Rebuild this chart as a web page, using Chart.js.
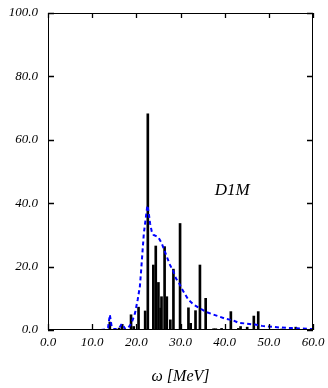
<!DOCTYPE html>
<html>
<head>
<meta charset="utf-8">
<script src="https://cdn.jsdelivr.net/npm/chart.js@4.4.1/dist/chart.umd.min.js"></script>
<style>
  html, body { margin: 0; padding: 0; background: #ffffff; }
  #wrap { width: 328px; height: 388px; }
</style>
</head>
<body>
<div id="wrap"><canvas id="c" width="328" height="388"></canvas></div>
<script>
// Discrete transition strengths (stick spectrum)
const stickEnergy = [14.0, 16.1, 16.8, 18.8, 19.4, 20.5, 22.0, 22.6, 23.85, 24.4, 25.0, 25.5, 25.7,
  26.4, 26.9, 27.7, 28.4, 29.9, 31.8, 32.3, 33.4, 34.4, 35.7, 37.5, 38.0, 39.3, 41.4,
  43.1, 43.6, 45.1, 46.6, 47.6, 52.9, 56.1];
const stickStrength = [2.5, 0.6, 1.8, 4.8, 1.1, 7.2, 6.0, 68.2, 20.5, 26.5, 15.0, 6.9, 10.5,
  26.3, 10.5, 3.2, 19.2, 33.6, 7.0, 2.1, 6.1, 20.5, 10.0, 0.4, 0.4, 0.5, 5.8,
  0.5, 1.1, 0.9, 4.4, 5.8, 0.3, 0.9];

// Folded (smoothed) response
const foldEnergy = [12.0, 13.0, 13.6, 14.0, 14.4, 14.8, 15.5, 16.2, 16.7, 17.1, 17.5, 18.2, 18.9,
  19.7, 20.3, 20.8, 21.1, 21.7, 22.2, 22.5, 22.8, 23.1, 23.5, 23.9, 24.5, 25.0, 25.7, 26.3,
  26.9, 27.6, 28.4, 29.0, 29.7, 30.5, 31.8, 33.0, 34.4, 36.0, 37.8, 40.1, 42.0, 43.1, 45.0,
  46.9, 48.5, 49.9, 52.5, 55.2, 57.5, 60.0];
const foldStrength = [0.0, 0.2, 0.8, 4.8, 1.2, 0.3, 0.3, 0.8, 1.9, 1.2, 0.3, 0.8, 2.1,
  5.3, 9.5, 13.7, 19.0, 30.5, 36.0, 39.3, 37.0, 33.7, 31.0, 30.0, 29.6, 29.2, 27.5, 25.3,
  23.1, 20.6, 18.4, 16.2, 14.7, 12.5, 9.5, 8.0, 6.8, 5.6, 4.7, 3.6, 3.0, 2.3, 2.0,
  1.7, 1.3, 1.1, 0.8, 0.6, 0.45, 0.3];

const xTickValues = [0, 10, 20, 30, 40, 50, 60];
const yTickValues = [0, 20, 40, 60, 80, 100];
const panelLabel = 'D1M';
const xAxisTitle = 'ω [MeV]';

const serif = '"Liberation Serif", "Times New Roman", serif';

// Frame around the plot area with inward-pointing tick marks, plus the panel label
const framePlugin = {
  id: 'frame',
  afterDatasetsDraw(chart) {
    const { ctx, chartArea: a, scales: { x, y } } = chart;
    ctx.save();
    ctx.strokeStyle = '#000';
    ctx.lineWidth = 1;
    ctx.strokeRect(a.left + 0.5, a.top + 0.5, a.right - a.left - 1, a.bottom - a.top - 1);
    ctx.lineWidth = 1.3;
    ctx.beginPath();
    xTickValues.forEach(v => {
      const px = Math.round(x.getPixelForValue(v)) + 0.5;
      ctx.moveTo(px, a.bottom); ctx.lineTo(px, a.bottom - 6);
      ctx.moveTo(px, a.top); ctx.lineTo(px, a.top + 5);
    });
    yTickValues.forEach(v => {
      const py = Math.round(y.getPixelForValue(v)) + 0.5;
      ctx.moveTo(a.left, py); ctx.lineTo(a.left + 6, py);
      ctx.moveTo(a.right, py); ctx.lineTo(a.right - 6, py);
    });
    ctx.stroke();
    ctx.fillStyle = '#000';
    ctx.font = 'italic 17px ' + serif;
    ctx.textAlign = 'center';
    ctx.textBaseline = 'alphabetic';
    ctx.fillText(panelLabel, x.getPixelForValue(41.7), y.getPixelForValue(42.5));
    ctx.restore();
  }
};

new Chart(document.getElementById('c'), {
  type: 'bar',
  data: {
    datasets: [
      {
        type: 'line',
        data: foldEnergy.map((e, i) => ({ x: e, y: foldStrength[i] })),
        borderColor: '#0000ff',
        borderWidth: 2,
        borderDash: [4, 3],
        pointRadius: 0,
        fill: false,
        tension: 0,
        order: 0
      },
      {
        type: 'bar',
        data: stickEnergy.map((e, i) => ({ x: e, y: stickStrength[i] })),
        backgroundColor: '#000000',
        borderWidth: 0,
        barThickness: 2,
        grouped: false,
        order: 1
      }
    ]
  },
  options: {
    responsive: false,
    animation: false,
    devicePixelRatio: 1,
    layout: { padding: { left: 0, right: 15, top: 13, bottom: 0 } },
    plugins: { legend: { display: false }, tooltip: { enabled: false } },
    scales: {
      x: {
        type: 'linear',
        min: 0, max: 60,
        offset: false,
        grid: { display: false, drawTicks: false, offset: false },
        border: { display: false },
        afterBuildTicks(s) { s.ticks = xTickValues.map(v => ({ value: v })); },
        afterFit(s) { s.height = 58; s.paddingLeft = 0; s.paddingRight = 0; },
        ticks: {
          padding: 5,
          maxRotation: 0,
          autoSkip: false,
          color: '#000',
          font: { family: serif, style: 'italic', size: 13 },
          callback: v => Number(v).toFixed(1)
        },
        title: {
          display: true,
          text: xAxisTitle,
          color: '#000',
          font: { family: serif, style: 'italic', size: 16 },
          padding: { top: 0, bottom: 2 }
        }
      },
      y: {
        min: 0, max: 100,
        grid: { display: false, drawTicks: false },
        border: { display: false },
        afterBuildTicks(s) { s.ticks = yTickValues.map(v => ({ value: v })); },
        afterFit(s) { s.width = 48; s.paddingTop = 0; s.paddingBottom = 0; },
        ticks: {
          padding: 10,
          color: '#000',
          font: { family: serif, style: 'italic', size: 13 },
          callback: v => Number(v).toFixed(1)
        }
      }
    }
  },
  plugins: [framePlugin]
});
</script>
</body>
</html>
